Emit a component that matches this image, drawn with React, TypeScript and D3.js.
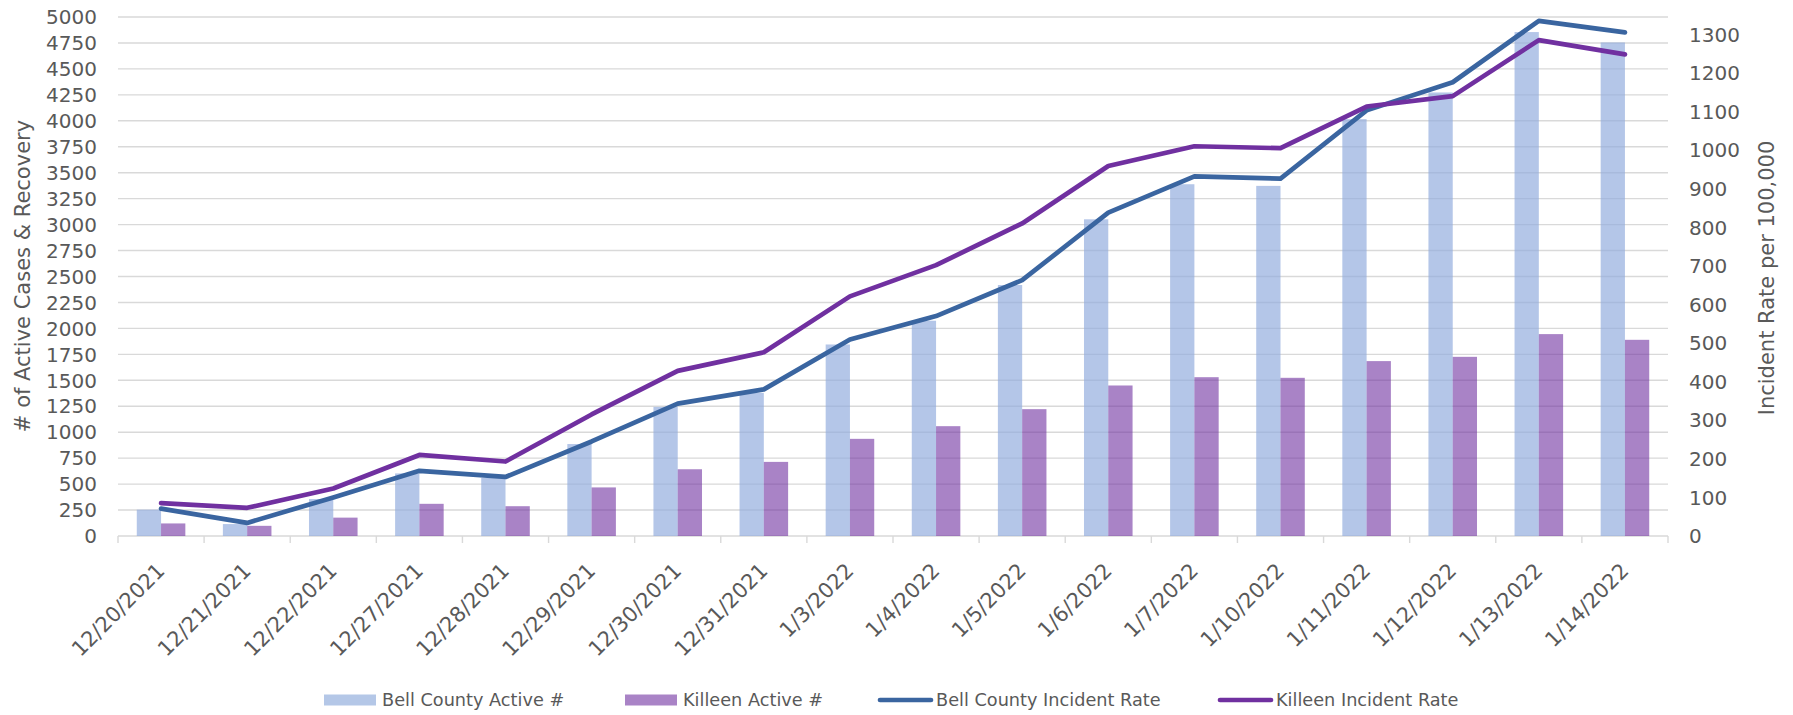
import React from "react";
import * as d3 from "d3";

// chart data
const dates = [
  "12/20/2021", "12/21/2021", "12/22/2021", "12/27/2021", "12/28/2021", "12/29/2021",
  "12/30/2021", "12/31/2021", "1/3/2022", "1/4/2022", "1/5/2022", "1/6/2022",
  "1/7/2022", "1/10/2022", "1/11/2022", "1/12/2022", "1/13/2022", "1/14/2022",
];
const bellActive = [254, 115, 356, 603, 560, 886, 1244, 1379, 1845, 2074, 2418, 3051, 3389, 3373, 4016, 4273, 4855, 4755];
const killeenActive = [121, 98, 177, 310, 287, 468, 643, 714, 936, 1058, 1222, 1450, 1530, 1524, 1685, 1726, 1945, 1890];
const bellRate = [71, 34, 100, 169, 153, 245, 343, 380, 509, 570, 663, 838, 932, 926, 1103, 1176, 1335, 1305];
const killeenRate = [85, 73, 123, 210, 193, 315, 428, 476, 621, 702, 810, 959, 1010, 1005, 1113, 1140, 1285, 1248];

const leftTicks = d3.range(0, 5001, 250);
const rightTicks = d3.range(0, 1301, 100);

const legendItems = [
  { label: "Bell County Active #", kind: "bar", color: "#B4C7E7" },
  { label: "Killeen Active #", kind: "bar", color: "#A983C6" },
  { label: "Bell County Incident Rate", kind: "line", color: "#3A65A0" },
  { label: "Killeen Incident Rate", kind: "line", color: "#7030A0" },
];

const W = 1793;
const H = 715;
const left = 118;
const right = 1668;
const top = 17;
const bottom = 536;
const font = "'DejaVu Sans', sans-serif";
const textColor = "#595959";
const gridColor = "#D9D9D9";

export default function App() {
  const x = d3.scaleBand().domain(dates).range([left, right]).padding(0);
  const bw = x.bandwidth();
  const barW = bw * 0.282;
  const groupOff = (bw - barW * 2) / 2;
  const yLeft = d3.scaleLinear().domain([0, 5000]).range([bottom, top]);
  const yRight = d3.scaleLinear().domain([0, 1345]).range([bottom, top]);

  const line = (vals: number[]) =>
    d3
      .line<number>()
      .x((_, i) => (x(dates[i]) as number) + bw / 2)
      .y((d) => yRight(d))(vals) as string;

  const legendX = [324, 625, 878, 1218];

  return (
    <svg
      width={W}
      height={H}
      style={{ position: "absolute", left: 0, top: 0, background: "#fff" }}
      fontFamily={font}
    >
      {/* grid */}
      {leftTicks.map((t) => (
        <line key={"g" + t} x1={left} x2={right} y1={yLeft(t)} y2={yLeft(t)} stroke={gridColor} strokeWidth={1.4} />
      ))}
      {/* x ticks */}
      {d3.range(dates.length + 1).map((i) => (
        <line key={"xt" + i} x1={left + i * bw} x2={left + i * bw} y1={bottom} y2={bottom + 7} stroke={gridColor} strokeWidth={1.4} />
      ))}

      {/* bars */}
      {dates.map((d, i) => (
        <g key={"b" + d}>
          <rect
            x={(x(d) as number) + groupOff}
            y={yLeft(bellActive[i])}
            width={barW}
            height={bottom - yLeft(bellActive[i])}
            fill="#8FAADC"
            fillOpacity={0.67}
          />
          <rect
            x={(x(d) as number) + groupOff + barW}
            y={yLeft(killeenActive[i])}
            width={barW}
            height={bottom - yLeft(killeenActive[i])}
            fill="#7030A0"
            fillOpacity={0.6}
          />
        </g>
      ))}

      {/* lines */}
      <path d={line(bellRate)} fill="none" stroke="#3A65A0" strokeWidth={4.7} strokeLinejoin="round" strokeLinecap="round" />
      <path d={line(killeenRate)} fill="none" stroke="#7030A0" strokeWidth={4.7} strokeLinejoin="round" strokeLinecap="round" />

      {/* left axis labels */}
      {leftTicks.map((t) => (
        <text key={"l" + t} x={97} y={yLeft(t)} dy="0.36em" textAnchor="end" fontSize={20} fill={textColor}>
          {t}
        </text>
      ))}
      {/* right axis labels */}
      {rightTicks.map((t) => (
        <text key={"r" + t} x={1689} y={yRight(t)} dy="0.36em" textAnchor="start" fontSize={20} fill={textColor}>
          {t}
        </text>
      ))}

      {/* x labels */}
      {dates.map((d) => (
        <text
          key={"x" + d}
          transform={`translate(${(x(d) as number) + bw / 2 + 5},${572}) rotate(-45)`}
          textAnchor="end"
          fontSize={21}
          fill={textColor}
        >
          {d}
        </text>
      ))}

      {/* axis titles */}
      <text transform="translate(23,276) rotate(-90)" dy="0.35em" textAnchor="middle" fontSize={21} fill={textColor}>
        # of Active Cases &amp; Recovery
      </text>
      <text transform="translate(1767,278) rotate(-90)" dy="0.35em" textAnchor="middle" fontSize={21} fill={textColor}>
        Incident Rate per 100,000
      </text>

      {/* legend */}
      {legendItems.map((it, i) => (
        <g key={"lg" + i} transform={`translate(${legendX[i]},700)`}>
          {it.kind === "bar" ? (
            <rect x={0} y={-5.5} width={52} height={11} fill={it.color} />
          ) : (
            <line x1={2} x2={53} y1={0} y2={0} stroke={it.color} strokeWidth={4.7} strokeLinecap="round" />
          )}
          <text x={58} y={0} dy="0.36em" fontSize={17.7} fill={textColor}>
            {it.label}
          </text>
        </g>
      ))}
    </svg>
  );
}
